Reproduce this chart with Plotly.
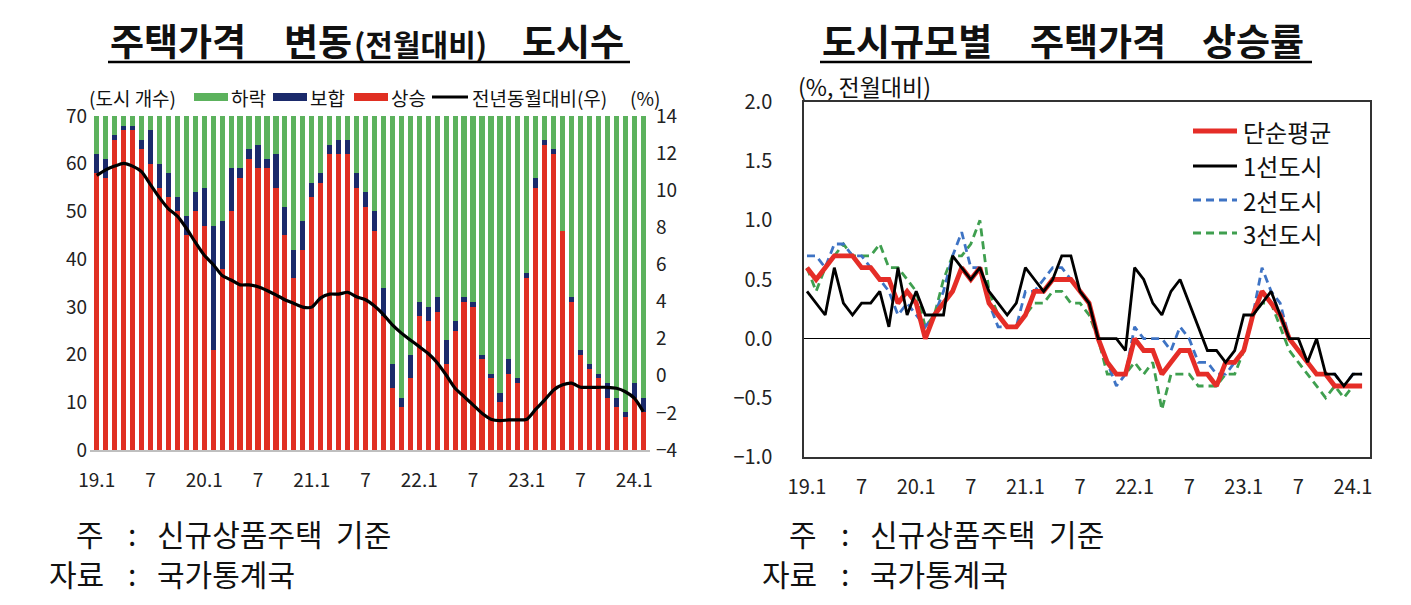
import plotly.graph_objects as go

W, H = 1411, 605
FONT = "Noto Sans CJK KR"

# ---------------- data ----------------
month_idx = list(range(62))  # 2019.1 ... 2024.2
tick_pos = [0, 6, 12, 18, 24, 30, 36, 42, 48, 54, 60]
tick_text = ["19.1", "7", "20.1", "7", "21.1", "7", "22.1", "7", "23.1", "7", "24.1"]

# number of cities (70 cities)
rise = [58, 57, 65, 67, 67, 63, 60, 55, 53, 50,
        45, 50, 47, 21, 38, 50, 57, 61, 59, 59,
        55, 45, 36, 42, 53, 56, 62, 62, 62, 55,
        51, 46, 28, 13, 9, 15, 28, 27, 29, 18,
        25, 31, 30, 19, 15, 10, 16, 14, 36, 55,
        64, 62, 46, 31, 20, 17, 15, 11, 9, 7,
        11, 8]
flat = [4, 4, 1, 1, 1, 2, 7, 5, 5, 3,
        4, 4, 8, 26, 10, 9, 2, 2, 5, 2,
        7, 6, 6, 6, 3, 2, 2, 3, 3, 3,
        3, 4, 6, 5, 2, 5, 3, 3, 3, 5,
        2, 1, 1, 1, 1, 2, 3, 1, 1, 2,
        1, 1, 0, 1, 1, 1, 1, 3, 2, 1,
        3, 3]
fall = [8, 9, 4, 2, 2, 5, 3, 10, 12, 17,
        21, 16, 15, 23, 22, 11, 11, 7, 6, 9,
        8, 19, 28, 22, 14, 12, 6, 5, 5, 12,
        16, 20, 36, 52, 59, 50, 39, 40, 38, 47,
        43, 38, 39, 50, 54, 58, 51, 55, 33, 13,
        5, 7, 24, 38, 49, 52, 54, 56, 59, 62,
        56, 59]
yoy = [10.8, 11.1, 11.3, 11.45, 11.3, 11.0, 10.3, 9.6, 9.0, 8.6,
       7.95, 7.2, 6.5, 6.0, 5.4, 5.16, 4.9, 4.9, 4.8, 4.6,
       4.36, 4.1, 3.9, 3.7, 3.7, 4.2, 4.4, 4.4, 4.5, 4.26,
       4.1, 3.76, 3.3, 2.74, 2.3, 1.93, 1.57, 1.2, 0.7, 0.04,
       -0.67, -1.12, -1.57, -2.02, -2.34, -2.42, -2.38, -2.38, -2.34, -1.8,
       -1.3, -0.76, -0.49, -0.4, -0.62, -0.62, -0.62, -0.62, -0.67, -0.86,
       -1.21, -1.93]

# month-on-month price change (%) by city tier
avg = [0.6, 0.5, 0.6, 0.7, 0.7, 0.7, 0.6, 0.6, 0.5, 0.5,
       0.3, 0.4, 0.3, 0.0, 0.2, 0.3, 0.4, 0.6, 0.5, 0.6,
       0.3, 0.2, 0.1, 0.1, 0.2, 0.4, 0.4, 0.5, 0.5, 0.5,
       0.4, 0.3, 0.0, -0.2, -0.3, -0.3, 0.0, -0.1, -0.1, -0.3,
       -0.2, -0.1, -0.1, -0.3, -0.3, -0.4, -0.2, -0.2, -0.1, 0.2,
       0.4, 0.3, 0.2, 0.0, -0.1, -0.2, -0.3, -0.3, -0.4, -0.4,
       -0.4, -0.4]
tier1 = [0.4, 0.3, 0.2, 0.6, 0.3, 0.2, 0.3, 0.3, 0.4, 0.1,
         0.6, 0.2, 0.4, 0.2, 0.2, 0.2, 0.7, 0.6, 0.5, 0.6,
         0.4, 0.3, 0.2, 0.3, 0.6, 0.5, 0.4, 0.5, 0.7, 0.7,
         0.4, 0.3, 0.0, 0.0, 0.0, -0.1, 0.6, 0.5, 0.3, 0.2,
         0.4, 0.5, 0.3, 0.1, -0.1, -0.1, -0.2, -0.1, 0.2, 0.2,
         0.3, 0.4, 0.2, 0.0, 0.0, -0.2, 0.0, -0.3, -0.3, -0.4,
         -0.3, -0.3]
tier2 = [0.7, 0.7, 0.6, 0.8, 0.8, 0.7, 0.7, 0.6, 0.5, 0.4,
         0.2, 0.3, 0.2, 0.1, 0.2, 0.4, 0.7, 0.9, 0.6, 0.6,
         0.3, 0.1, 0.1, 0.1, 0.4, 0.4, 0.5, 0.6, 0.6, 0.5,
         0.4, 0.3, 0.0, -0.2, -0.4, -0.3, 0.1, 0.0, 0.0, 0.0,
         -0.1, 0.1, 0.0, -0.2, -0.2, -0.3, -0.3, -0.2, -0.1, 0.2,
         0.6, 0.4, 0.3, 0.0, -0.1, -0.2, -0.3, -0.3, -0.3, -0.4,
         -0.3, -0.3]
tier3 = [0.6, 0.4, 0.6, 0.7, 0.8, 0.7, 0.7, 0.7, 0.8, 0.6,
         0.6, 0.5, 0.4, 0.1, 0.2, 0.5, 0.7, 0.7, 0.8, 1.0,
         0.4, 0.2, 0.1, 0.1, 0.2, 0.3, 0.3, 0.4, 0.4, 0.3,
         0.3, 0.2, 0.0, -0.3, -0.3, -0.3, -0.2, -0.3, -0.2, -0.6,
         -0.3, -0.3, -0.3, -0.4, -0.4, -0.4, -0.3, -0.3, -0.1, 0.2,
         0.3, 0.3, 0.1, -0.1, -0.2, -0.3, -0.4, -0.5, -0.4, -0.5,
         -0.4, -0.4]

# ---------------- styles ----------------
C_FALL, C_FLAT, C_RISE = "#5cb25d", "#1b2a6b", "#e02f22"
C_AVG, C_T1, C_T2, C_T3 = "#e52d27", "#000000", "#3e73c4", "#3f9f4f"


def px(x):
    return x / W


def py(y):
    return 1 - y / H


fig = go.Figure()

# ---- left chart: stacked bars + YoY line
fig.add_trace(go.Bar(x=month_idx, y=rise, name="상승", marker_color=C_RISE,
                     marker_line_width=0, xaxis="x", yaxis="y", showlegend=False))
fig.add_trace(go.Bar(x=month_idx, y=flat, name="보합", marker_color=C_FLAT,
                     marker_line_width=0, xaxis="x", yaxis="y", showlegend=False))
fig.add_trace(go.Bar(x=month_idx, y=fall, name="하락", marker_color=C_FALL,
                     marker_line_width=0, xaxis="x", yaxis="y", showlegend=False))
fig.add_trace(go.Scatter(x=month_idx, y=yoy, name="전년동월대비(우)", mode="lines",
                         line=dict(color="#000000", width=3.2, shape="spline", smoothing=0.6),
                         xaxis="x", yaxis="y2", showlegend=False))

# ---- right chart: lines
fig.add_trace(go.Scatter(x=month_idx, y=tier3, name="3선도시", mode="lines",
                         line=dict(color=C_T3, width=2.8, dash="8px,5px"),
                         xaxis="x3", yaxis="y3", showlegend=False))
fig.add_trace(go.Scatter(x=month_idx, y=tier2, name="2선도시", mode="lines",
                         line=dict(color=C_T2, width=2.8, dash="8px,5px"),
                         xaxis="x3", yaxis="y3", showlegend=False))
fig.add_trace(go.Scatter(x=month_idx, y=avg, name="단순평균", mode="lines",
                         line=dict(color=C_AVG, width=4.8),
                         xaxis="x3", yaxis="y3", showlegend=False))
fig.add_trace(go.Scatter(x=month_idx, y=tier1, name="1선도시", mode="lines",
                         line=dict(color=C_T1, width=2.8),
                         xaxis="x3", yaxis="y3", showlegend=False))

tickfont = dict(family=FONT, size=19, color="#222222")

fig.update_layout(
    width=W, height=H, autosize=False,
    margin=dict(l=0, r=0, t=0, b=0, autoexpand=False),
    paper_bgcolor="white", plot_bgcolor="white",
    barmode="stack", bargap=0.42,
    font=dict(family=FONT, color="#222222"),
    xaxis=dict(domain=[px(90), px(650)], range=[-0.75, 61.75], anchor="y",
               tickmode="array", tickvals=tick_pos, ticktext=tick_text,
               showline=True, linecolor="#bfbfbf", linewidth=1.5, ticks="",
               showgrid=False, zeroline=False, tickfont=tickfont,
               ticklabelstandoff=12, automargin=False),
    yaxis=dict(domain=[py(450), py(116)], range=[0, 70], dtick=10, anchor="x",
               showgrid=False, zeroline=False, showline=False, ticks="",
               tickfont=tickfont, ticklabelstandoff=2, automargin=False),
    yaxis2=dict(overlaying="y", side="right", anchor="x", range=[-4, 14], dtick=2,
                showgrid=False, zeroline=False, showline=False, ticks="",
                tickfont=tickfont, ticklabelstandoff=5, automargin=False),
    xaxis3=dict(domain=[px(804), px(1370)], range=[-0.33, 61.87], anchor="y3",
                tickmode="array", tickvals=tick_pos, ticktext=tick_text,
                showline=True, mirror=True, linecolor="#333333", linewidth=1.5,
                ticks="", showgrid=False, zeroline=False,
                tickfont=dict(family=FONT, size=20, color="#222222"),
                ticklabelstandoff=11, automargin=False),
    yaxis3=dict(domain=[py(457), py(102)], range=[-1.0, 2.0], dtick=0.5,
                tickformat=".1f", anchor="x3",
                showline=True, mirror=True, linecolor="#333333", linewidth=1.5,
                ticks="", showgrid=False,
                zeroline=True, zerolinecolor="#000000", zerolinewidth=1.2,
                tickfont=dict(family=FONT, size=20, color="#222222"),
                ticklabelstandoff=26, automargin=False),
)

annotations = []
shapes = []


def txt(x, y, s, size, xanchor="left", bold=False, color="#111111"):
    annotations.append(dict(
        x=px(x), y=py(y), xref="paper", yref="paper", text=("<b>%s</b>" % s) if bold else s,
        showarrow=False, xanchor=xanchor, yanchor="middle",
        font=dict(family=FONT, size=size, color=color)))


# ---- titles
txt(108, 40, "주택가격", 37, bold=True)
txt(282, 40, "변동", 37, bold=True)
txt(352, 43, "(전월대비)", 30, bold=True)
txt(520, 40, "도시수", 37, bold=True)
shapes.append(dict(type="line", xref="paper", yref="paper",
                   x0=px(108), x1=px(630), y0=py(62), y1=py(62),
                   line=dict(color="#000000", width=2.5)))

txt(820, 40, "도시규모별", 37, bold=True)
txt(1028, 40, "주택가격", 37, bold=True)
txt(1200, 40, "상승률", 37, bold=True)
shapes.append(dict(type="line", xref="paper", yref="paper",
                   x0=px(820), x1=px(1312), y0=py(62), y1=py(62),
                   line=dict(color="#000000", width=2.5)))

# ---- left legend (custom)
txt(87, 97, "(도시 개수)", 19)
leg_items = [(194, 228, C_FALL, "하락"), (273, 307, C_FLAT, "보합"), (354, 388, C_RISE, "상승")]
for x0, x1, c, lab in leg_items:
    shapes.append(dict(type="rect", xref="paper", yref="paper",
                       x0=px(x0), x1=px(x1), y0=py(101), y1=py(93),
                       fillcolor=c, line=dict(width=0)))
    txt(x1 + 1, 97, lab, 19)
shapes.append(dict(type="line", xref="paper", yref="paper",
                   x0=px(432), x1=px(468), y0=py(97), y1=py(97),
                   line=dict(color="#000000", width=3)))
txt(470, 97, "전년동월대비(우)", 19)
txt(628, 97, "(%)", 19)

# ---- right unit + legend
txt(796, 86, "(%, 전월대비)", 23)
r_items = [(131, C_AVG, 4.8, None, "단순평균"), (166, C_T1, 2.8, None, "1선도시"),
           (200, C_T2, 2.8, "dash", "2선도시"), (233, C_T3, 2.8, "dash", "3선도시")]
for yy, c, w, d, lab in r_items:
    ln = dict(color=c, width=w)
    if d:
        ln["dash"] = "8px,5px"
    shapes.append(dict(type="line", xref="paper", yref="paper",
                       x0=px(1193), x1=px(1237), y0=py(yy), y1=py(yy), line=ln))
    txt(1241, yy, lab, 24)

# ---- footnotes
for base in (0, 713):
    txt(106 + base, 533, "주", 30, xanchor="right")
    txt(132 + base, 533, ":", 30, xanchor="center")
    txt(155 + base, 533, "신규상품주택  기준", 30)
    txt(106 + base, 573, "자료", 30, xanchor="right")
    txt(132 + base, 573, ":", 30, xanchor="center")
    txt(155 + base, 573, "국가통계국", 30)

fig.update_layout(annotations=annotations, shapes=shapes)

fig.write_html(
    "out.html",
    config={"responsive": False, "displayModeBar": False},
    post_script=("document.documentElement.style.margin='0';"
                 "document.body.style.margin='0';"
                 "document.body.style.padding='0';"
                 "document.body.style.overflow='hidden';"),
)
